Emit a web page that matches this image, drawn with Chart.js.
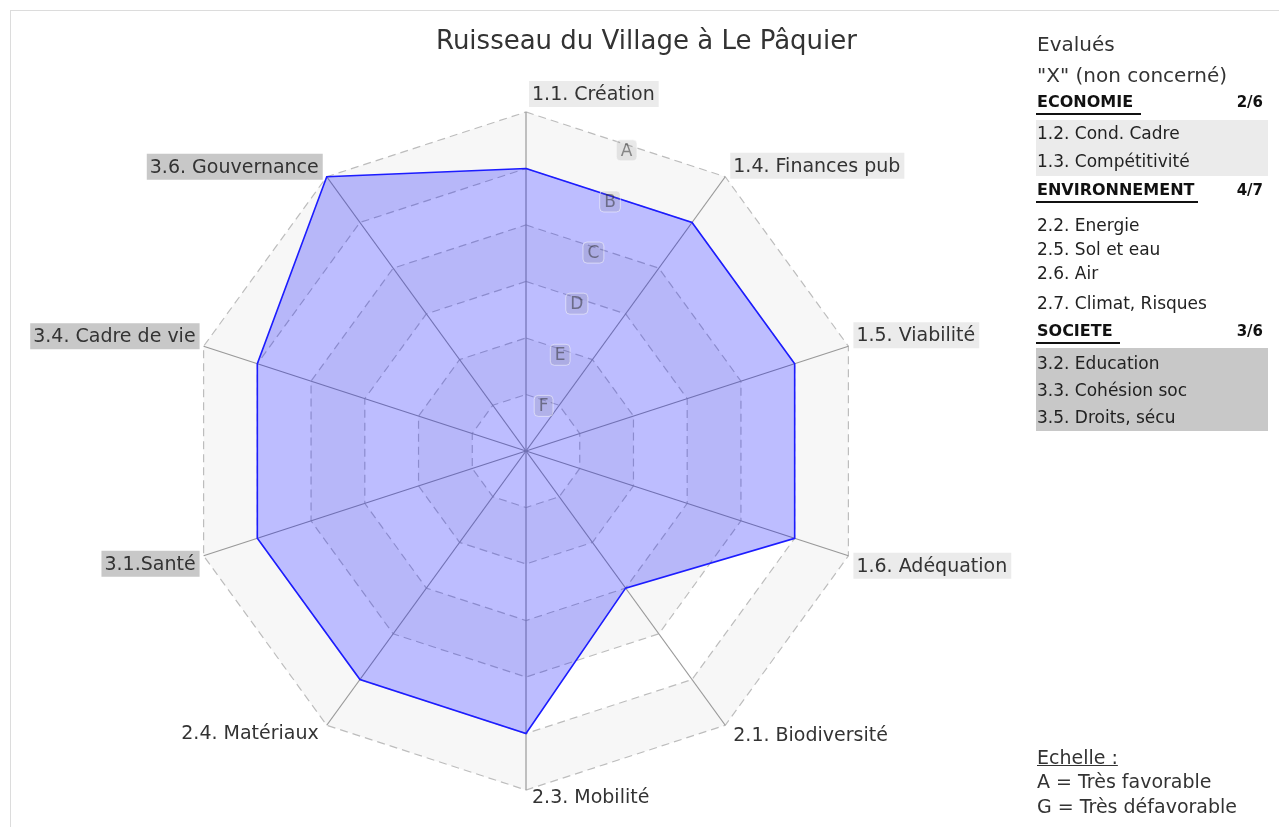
<!DOCTYPE html>
<html><head><meta charset="utf-8">
<script src="https://cdn.jsdelivr.net/npm/chart.js@4.4.1/dist/chart.umd.min.js"></script>
<style>
html,body{margin:0;padding:0;background:#fff;width:1279px;height:827px;overflow:hidden;font-family:'DejaVu Sans',sans-serif;color:#333}
#frame{position:absolute;left:10px;top:10px;width:1400px;height:1000px;border-left:1px solid #dcdcdc;border-top:1px solid #dcdcdc}
#wrap{position:absolute;left:0;top:0;width:1279px;height:827px}
.t{position:absolute;white-space:nowrap;line-height:24px;height:24px}
.big{font-size:20px}
.it{font-size:17px;color:#222}
.h{font-size:16px;font-weight:bold;color:#111}
.n{font-size:15px;font-weight:bold;color:#111;text-align:right;width:40px}
.ul{position:absolute;height:2px;background:#111}
.box{position:absolute;left:1036px;width:232px}
#title{position:absolute;left:0;width:1293px;text-align:center;top:24px;font-size:26px;line-height:32px;color:#333}
</style></head>
<body>
<div id="frame"></div>
<div id="wrap"><canvas id="c"></canvas></div>
<div id="title">Ruisseau du Village à Le Pâquier</div>

<div class="t big" style="left:1037px;top:32px">Evalués</div>
<div class="t big" style="left:1037px;top:63px">"X" (non concerné)</div>

<div class="t h" style="left:1037px;top:90px">ECONOMIE</div>
<div class="ul" style="left:1036px;top:113px;width:105px"></div>
<div class="t n" style="left:1223px;top:90px">2/6</div>
<div class="box" style="top:120px;height:56px;background:#ebebeb"></div>
<div class="t it" style="left:1037px;top:121px">1.2. Cond. Cadre</div>
<div class="t it" style="left:1037px;top:149px">1.3. Compétitivité</div>

<div class="t h" style="left:1037px;top:178px">ENVIRONNEMENT</div>
<div class="ul" style="left:1036px;top:201px;width:162px"></div>
<div class="t n" style="left:1223px;top:178px">4/7</div>
<div class="t it" style="left:1037px;top:213px">2.2. Energie</div>
<div class="t it" style="left:1037px;top:237px">2.5. Sol et eau</div>
<div class="t it" style="left:1037px;top:261px">2.6. Air</div>
<div class="t it" style="left:1037px;top:291px">2.7. Climat, Risques</div>

<div class="t h" style="left:1037px;top:319px">SOCIETE</div>
<div class="ul" style="left:1036px;top:342px;width:84px"></div>
<div class="t n" style="left:1223px;top:319px">3/6</div>
<div class="box" style="top:348px;height:83px;background:#c8c8c8"></div>
<div class="t it" style="left:1037px;top:351px">3.2. Education</div>
<div class="t it" style="left:1037px;top:378px">3.3. Cohésion soc</div>
<div class="t it" style="left:1037px;top:405px">3.5. Droits, sécu</div>

<div class="t" style="left:1037px;top:745px;font-size:19px;text-decoration:underline">Echelle :</div>
<div class="t" style="left:1037px;top:769px;font-size:19px">A = Très favorable</div>
<div class="t" style="left:1037px;top:794px;font-size:19px">G = Très défavorable</div>

<script>
const categories = ['1.1. Création','1.4. Finances pub','1.5. Viabilité','1.6. Adéquation','2.1. Biodiversité','2.3. Mobilité','2.4. Matériaux','3.1.Santé','3.4. Cadre de vie','3.6. Gouvernance'];
const scores = [5,5,5,5,3,5,5,5,5,6];
const gradeLetters = ['G','F','E','D','C','B','A'];
const labelGroups = ['eco','eco','eco','eco','env','env','env','soc','soc','soc'];
const groupColors = {eco:'#ebebeb', env:null, soc:'#c8c8c8'};

const bands = {
  id:'bands',
  beforeDraw(chart){
    const s = chart.scales.r, ctx = chart.ctx, n = chart.data.labels.length;
    ctx.save();
    for (let v = s.max; v >= 1; v--) {
      ctx.beginPath();
      for (let i=0;i<n;i++){ const p = s.getPointPositionForValue(i, v); if(i) ctx.lineTo(p.x,p.y); else ctx.moveTo(p.x,p.y); }
      ctx.closePath();
      ctx.fillStyle = (v % 2 === 0) ? '#f7f7f7' : '#ffffff';
      ctx.fill();
    }
    ctx.restore();
  }
};

function roundRect(ctx,x,y,w,h,r){
  ctx.beginPath();
  ctx.moveTo(x+r,y);ctx.lineTo(x+w-r,y);ctx.quadraticCurveTo(x+w,y,x+w,y+r);
  ctx.lineTo(x+w,y+h-r);ctx.quadraticCurveTo(x+w,y+h,x+w-r,y+h);
  ctx.lineTo(x+r,y+h);ctx.quadraticCurveTo(x,y+h,x,y+h-r);
  ctx.lineTo(x,y+r);ctx.quadraticCurveTo(x,y,x+r,y);ctx.closePath();
}

const gradeLabels = {
  id:'grades',
  afterDatasetsDraw(chart){
    const s = chart.scales.r, ctx = chart.ctx;
    ctx.save();
    ctx.font = '17px "DejaVu Sans"';
    ctx.textAlign = 'center'; ctx.textBaseline = 'middle';
    for (let v = 1; v <= s.max; v++) {
      const a = s.getPointPositionForValue(0, v), b = s.getPointPositionForValue(1, v);
      const x = (a.x + b.x)/2 + 1, y = (a.y + b.y)/2 + 6;
      const txt = gradeLetters[v];
      const w = ctx.measureText(txt).width + 9, h = 21;
      roundRect(ctx, x - w/2, y - h/2, w, h, 4);
      ctx.fillStyle = 'rgba(120,120,120,0.16)'; ctx.fill();
      ctx.strokeStyle = 'rgba(255,255,255,0.5)'; ctx.lineWidth = 1; ctx.stroke();
      ctx.fillStyle = 'rgba(40,40,40,0.5)';
      ctx.fillText(txt, x, y + 1);
    }
    ctx.restore();
  }
};

const pointLabelsPlugin = {
  id:'plabels',
  afterDraw(chart){
    const s = chart.scales.r, ctx = chart.ctx;
    ctx.save();
    ctx.font = '19px "DejaVu Sans"';
    ctx.textBaseline = 'middle';
    chart.data.labels.forEach((lab,i)=>{
      const p = s.getPointPosition(i, s.drawingArea);
      const dx = p.x - s.xCenter, dy = p.y - s.yCenter;
      let x, y, align;
      if (Math.abs(dx) < 2) { align='left'; x = p.x + 6; y = dy < 0 ? p.y - 18 : p.y + 7; }
      else if (dx > 0) { align='left'; x = p.x + 8; y = dy < 0 ? p.y - 11 : p.y + 10; }
      else { align='right'; x = p.x - 8; y = dy < 0 ? p.y - 10 : p.y + 8; }
      const w = ctx.measureText(lab).width;
      const left = align === 'left' ? x : x - w;
      const bg = groupColors[labelGroups[i]];
      if (bg) { ctx.fillStyle = bg; ctx.fillRect(left - 3, y - 13, w + 7, 26); }
      ctx.fillStyle = '#333'; ctx.textAlign = align;
      ctx.fillText(lab, x, y + 1);
    });
    ctx.restore();
  }
};

new Chart(document.getElementById('c'), {
  type:'radar',
  data:{labels:categories, datasets:[{data:scores, borderColor:'#1c1cff', borderWidth:1.6, backgroundColor:'rgba(0,0,255,0.26)', fill:true, pointRadius:0, pointHoverRadius:0, tension:0}]},
  options:{
    responsive:true, maintainAspectRatio:false, animation:false,
    layout:{padding:{left:187, top:112, right:414, bottom:37}},
    plugins:{legend:{display:false}, tooltip:{enabled:false}, title:{display:false}},
    scales:{r:{min:0, max:6, beginAtZero:true,
      ticks:{display:false, stepSize:1},
      pointLabels:{display:false},
      grid:{color:'#bdbdbd', lineWidth:1.2},
      border:{dash:[8,5]},
      angleLines:{color:'#999999', lineWidth:1.2}}}
  },
  plugins:[bands, gradeLabels, pointLabelsPlugin]
});
</script>
</body></html>
